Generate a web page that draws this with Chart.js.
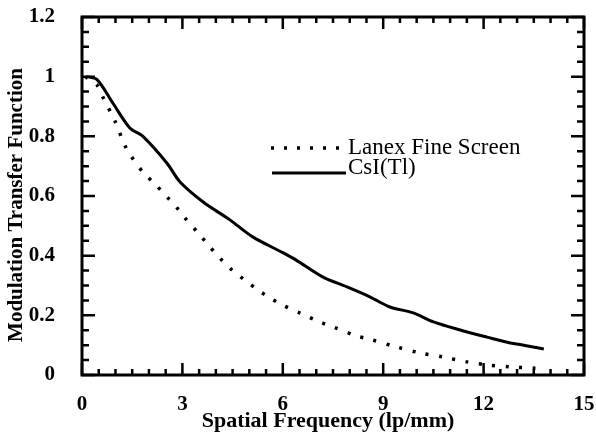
<!DOCTYPE html>
<html>
<head>
<meta charset="utf-8">
<script src="https://cdn.jsdelivr.net/npm/chart.js@4"></script>
<style>
  html, body { margin: 0; padding: 0; background: #fff; }
  #wrap { width: 596px; height: 437px; }
</style>
</head>
<body>
<div id="wrap"><canvas id="myChart" width="596" height="437"></canvas></div>
<script>
// values
const csiFreq = [0.15, 0.45, 0.93, 1.43, 1.82, 2.54, 2.93, 3.62, 4.42, 5.1, 6.0, 6.4, 7.2, 7.9, 8.6, 9.2, 9.9, 10.5, 11.3, 12.1, 12.8, 13.2, 13.8];
const csiMtf = [1.0, 0.99, 0.91, 0.828, 0.80, 0.71, 0.647, 0.58, 0.52, 0.463, 0.41, 0.385, 0.328, 0.296, 0.262, 0.228, 0.208, 0.178, 0.151, 0.127, 0.107, 0.10, 0.087];

const lanexFreq = [0.1, 0.45, 0.63, 0.99, 1.28, 1.49, 1.82, 2.18, 2.54, 2.84, 3.08, 3.47, 3.77, 4.12, 4.48, 4.87, 5.26, 5.62, 5.98, 6.5, 7.1, 7.5, 8.2, 8.6, 9.4, 10.1, 10.8, 11.5, 12.1, 12.8, 13.5, 13.8];
const lanexMtf = [1.0, 0.972, 0.93, 0.85, 0.77, 0.73, 0.68, 0.64, 0.597, 0.56, 0.526, 0.476, 0.436, 0.392, 0.352, 0.318, 0.285, 0.258, 0.235, 0.208, 0.178, 0.161, 0.131, 0.12, 0.094, 0.074, 0.06, 0.044, 0.034, 0.027, 0.023, 0.022];

const seriesNames = ['Lanex Fine Screen', 'CsI(Tl)'];
const xTitle = 'Spatial Frequency (lp/mm)';
const yTitle = 'Modulation Transfer Function';

const toPoints = (xs, ys) => xs.map((x, i) => ({ x: x, y: ys[i] }));

const serif = '"Liberation Serif", "DejaVu Serif", serif';

// frame, inward ticks, axis titles and legend
const decor = {
    id: 'decor',
    afterDraw(chart) {
        const ctx = chart.ctx;
        const a = chart.chartArea;
        const xs = chart.scales.x;
        const ys = chart.scales.y;
        ctx.save();
        ctx.strokeStyle = '#000';
        ctx.lineCap = 'butt';

        // ticks, minor every 0.5 / 0.05
        ctx.lineWidth = 2.5;
        for (let i = 0; i <= 30; i++) {
            const px = xs.getPixelForValue(i * 0.5);
            const len = (i % 6 === 0) ? 12 : 6;
            ctx.beginPath();
            ctx.moveTo(px, a.bottom); ctx.lineTo(px, a.bottom - len);
            ctx.moveTo(px, a.top); ctx.lineTo(px, a.top + len);
            ctx.stroke();
        }
        for (let i = 0; i <= 24; i++) {
            const py = ys.getPixelForValue(i * 0.05);
            const len = (i % 4 === 0) ? 13 : 7;
            ctx.beginPath();
            ctx.moveTo(a.left, py); ctx.lineTo(a.left + len, py);
            ctx.moveTo(a.right, py); ctx.lineTo(a.right - len, py);
            ctx.stroke();
        }

        // frame
        ctx.lineWidth = 3;
        ctx.strokeRect(a.left, a.top, a.right - a.left, a.bottom - a.top);

        // axis titles
        ctx.fillStyle = '#000';
        ctx.font = 'bold 22px ' + serif;
        ctx.textAlign = 'center';
        ctx.textBaseline = 'middle';
        ctx.fillText(xTitle, 328, 421);
        ctx.save();
        ctx.translate(17, 205);
        ctx.rotate(-Math.PI / 2);
        ctx.font = 'bold 21px ' + serif;
        ctx.fillText(yTitle, 0, 0);
        ctx.restore();

        // legend
        ctx.lineWidth = 3.5;
        ctx.setLineDash([3, 10]);
        ctx.beginPath();
        ctx.moveTo(271, 148); ctx.lineTo(346, 148);
        ctx.stroke();
        ctx.setLineDash([]);
        ctx.lineWidth = 3;
        ctx.beginPath();
        ctx.moveTo(272, 173); ctx.lineTo(346, 173);
        ctx.stroke();
        ctx.font = '23px ' + serif;
        ctx.textAlign = 'left';
        ctx.fillText(seriesNames[0], 348, 148);
        ctx.fillText(seriesNames[1], 348, 168);
        ctx.restore();
    }
};

const ctx = document.getElementById('myChart');

new Chart(ctx, {
    type: 'line',
    data: {
        datasets: [{
            label: seriesNames[0],
            data: toPoints(lanexFreq, lanexMtf),
            borderColor: '#000',
            borderWidth: 3.5,
            borderDash: [3, 10.5],
            borderCapStyle: 'butt',
            pointRadius: 0,
            tension: 0.3
        }, {
            label: seriesNames[1],
            data: toPoints(csiFreq, csiMtf),
            borderColor: '#000',
            borderWidth: 3,
            pointRadius: 0,
            tension: 0.3
        }]
    },
    options: {
        responsive: false,
        animation: false,
        layout: {
            padding: { left: 0, top: 17, right: 12, bottom: 0 }
        },
        plugins: {
            legend: { display: false },
            tooltip: { enabled: false }
        },
        scales: {
            x: {
                type: 'linear',
                min: 0,
                max: 15,
                grid: { display: false },
                border: { display: false },
                ticks: {
                    stepSize: 3,
                    color: '#000',
                    padding: 9,
                    font: { family: serif, size: 21, weight: 'bold' }
                },
                afterFit(scale) {
                    scale.height = 62;
                    scale.paddingLeft = 0;
                    scale.paddingRight = 0;
                }
            },
            y: {
                min: 0,
                max: 1.2,
                grid: { display: false },
                border: { display: false },
                ticks: {
                    stepSize: 0.2,
                    color: '#000',
                    padding: 19,
                    font: { family: serif, size: 21, weight: 'bold' },
                    callback: v => String(+v.toFixed(1))
                },
                afterFit(scale) {
                    scale.width = 82;
                    scale.paddingTop = 0;
                    scale.paddingBottom = 0;
                }
            }
        }
    },
    plugins: [decor]
});
</script>
</body>
</html>
